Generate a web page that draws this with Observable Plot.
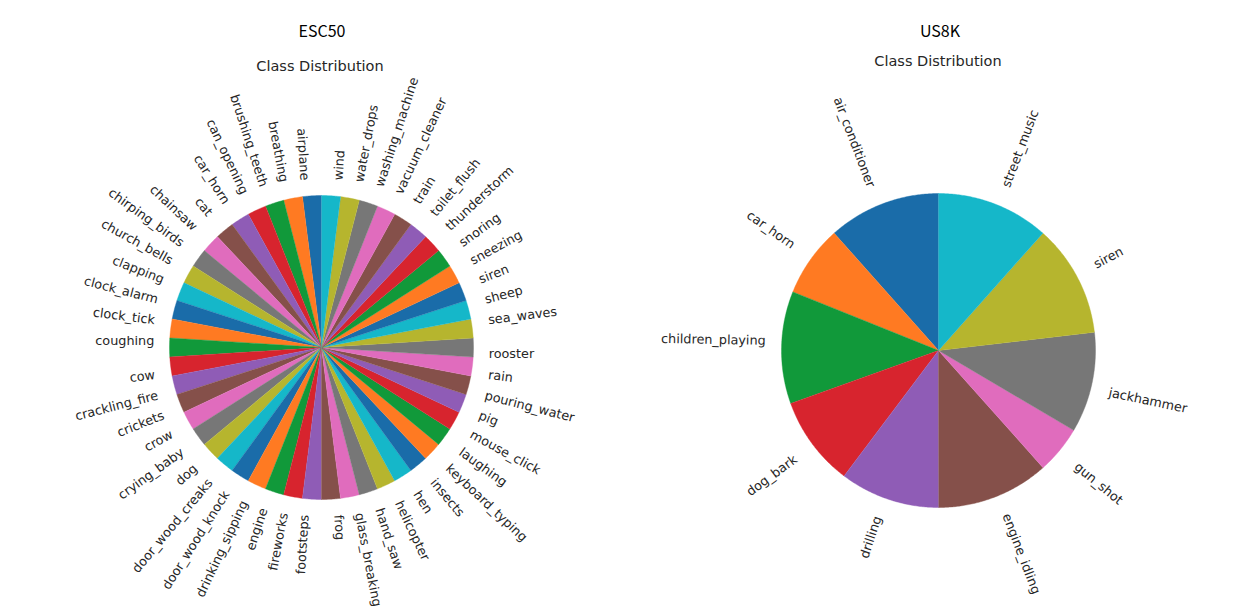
<!DOCTYPE html>
<html>
<head>
<meta charset="utf-8">
<script src="https://cdn.jsdelivr.net/npm/d3@7"></script>
<script src="https://cdn.jsdelivr.net/npm/@observablehq/plot@0.6"></script>
<style>
  html, body { margin: 0; padding: 0; background: #fff; }
  #page { position: relative; width: 1240px; height: 609px; overflow: hidden; }
  .panel { position: absolute; top: 0; width: 620px; height: 609px; }
  .panel svg { position: absolute; left: 0; top: 0; overflow: visible; }
  .outer { position: absolute; font-family: "Liberation Sans Narrow", "Noto Sans CJK SC", sans-serif; font-size: 16px; color: #000; transform: translate(-50%, -50%); white-space: nowrap; }
  .inner { position: absolute; font-family: "DejaVu Sans", sans-serif; font-size: 14.5px; color: #262626; transform: translate(-50%, -50%); white-space: nowrap; }
</style>
</head>
<body>
<div id="page"></div>
<script>
// ---- data ----
const esc50Labels = ["airplane","breathing","brushing_teeth","can_opening","car_horn","cat","chainsaw","chirping_birds","church_bells","clapping","clock_alarm","clock_tick","coughing","cow","crackling_fire","crickets","crow","crying_baby","dog","door_wood_creaks","door_wood_knock","drinking_sipping","engine","fireworks","footsteps","frog","glass_breaking","hand_saw","helicopter","hen","insects","keyboard_typing","laughing","mouse_click","pig","pouring_water","rain","rooster","sea_waves","sheep","siren","sneezing","snoring","thunderstorm","toilet_flush","train","vacuum_cleaner","washing_machine","water_drops","wind"];
const esc50Counts = [40,40,40,40,40,40,40,40,40,40,40,40,40,40,40,40,40,40,40,40,40,40,40,40,40,40,40,40,40,40,40,40,40,40,40,40,40,40,40,40,40,40,40,40,40,40,40,40,40,40];
const us8kLabels = ["air_conditioner","car_horn","children_playing","dog_bark","drilling","engine_idling","gun_shot","jackhammer","siren","street_music"];
const us8kCounts = [1000,635,1000,800,890,1000,425,895,1000,1000];
const palette = ["#1a6ca9","#ff7a22","#11993a","#d7242e","#8f5cb6","#85504a","#e06cbd","#777777","#b6b52e","#15b7c9"];
const outerTitles = ["ESC50","US8K"];
const innerTitle = "Class Distribution";

const FS = 12.8;       // label font size (px)
const LH = 12.8;       // text box height used for alignment (px)
const measureCtx = document.createElement("canvas").getContext("2d");

// ---- helpers: build wedge outlines and label anchors from the counts ----
function pieData(labels, counts, rpx) {
  measureCtx.font = FS + 'px "DejaVu Sans"';
  const total = d3.sum(counts);
  const wedges = [];
  const labelsOut = [];
  let cum = 0;
  labels.forEach((lab, i) => {
    const a0 = 90 + (cum / total) * 360;
    cum += counts[i];
    const a1 = 90 + (cum / total) * 360;
    const n = Math.max(2, Math.ceil((a1 - a0) / 0.5));
    wedges.push({label: lab, x: 0, y: 0});
    for (let k = 0; k <= n; k++) {
      const a = (a0 + (a1 - a0) * k / n) * Math.PI / 180;
      wedges.push({label: lab, x: Math.cos(a), y: Math.sin(a)});
    }
    // label: anchor at 1.1 r, rotated, aligned by its rotated bounding box
    const am = Math.round(((a0 + a1) / 2) * 1e6) / 1e6;
    const t = am * Math.PI / 180;
    const xt = 1.1 * Math.cos(t), yt = 1.1 * Math.sin(t);
    const rotDeg = am + (xt > 0 ? 0 : 180);
    const rr = rotDeg * Math.PI / 180;
    const w = measureCtx.measureText(lab).width / rpx;
    const h = LH / rpx;
    const W = w * Math.abs(Math.cos(rr)) + h * Math.abs(Math.sin(rr));
    const H = w * Math.abs(Math.sin(rr)) + h * Math.abs(Math.cos(rr));
    const cx = xt > 0 ? xt + W / 2 : xt - W / 2;
    const cy = yt > 0 ? yt + H / 2 : yt - H / 2;
    labelsOut.push({label: lab, x: cx, y: cy, rotate: -rotDeg});
  });
  return {wedges, labelsOut};
}

function piePlot(labels, counts, geom) {
  const {wedges, labelsOut} = pieData(labels, counts, geom.r);
  const colors = labels.map((_, i) => palette[i % palette.length]);
  return Plot.plot({
    width: 620,
    height: 609,
    marginLeft: geom.cx - geom.r,
    marginTop: geom.cy - geom.r,
    marginRight: 620 - (geom.cx + geom.r),
    marginBottom: 609 - (geom.cy + geom.r),
    x: {domain: [-1, 1], axis: null},
    y: {domain: [-1, 1], axis: null},
    color: {type: "ordinal", domain: labels, range: colors},
    style: {background: "transparent", overflow: "visible"},
    marks: [
      Plot.line(wedges, {x: "x", y: "y", z: "label", fill: "label", stroke: "label", strokeWidth: 0.4}),
      Plot.text(labelsOut, {x: "x", y: "y", text: "label", rotate: "rotate", textAnchor: "middle", lineAnchor: "middle", fontSize: FS, fontFamily: "DejaVu Sans", fill: "#262626"})
    ]
  });
}

const page = document.getElementById("page");
const panels = [
  {labels: esc50Labels, counts: esc50Counts, left: 0, geom: {cx: 321, cy: 347, r: 152}, outer: {x: 322, y: 30}, inner: {x: 320, y: 66}},
  {labels: us8kLabels, counts: us8kCounts, left: 620, geom: {cx: 318, cy: 350, r: 157}, outer: {x: 320, y: 30}, inner: {x: 318, y: 61}}
];
panels.forEach((p, i) => {
  const div = document.createElement("div");
  div.className = "panel";
  div.style.left = p.left + "px";
  div.appendChild(piePlot(p.labels, p.counts, p.geom));
  const t1 = document.createElement("div");
  t1.className = "outer";
  t1.textContent = outerTitles[i];
  t1.style.left = p.outer.x + "px";
  t1.style.top = p.outer.y + "px";
  div.appendChild(t1);
  const t2 = document.createElement("div");
  t2.className = "inner";
  t2.textContent = innerTitle;
  t2.style.left = p.inner.x + "px";
  t2.style.top = p.inner.y + "px";
  div.appendChild(t2);
  page.appendChild(div);
});
</script>
</body>
</html>
